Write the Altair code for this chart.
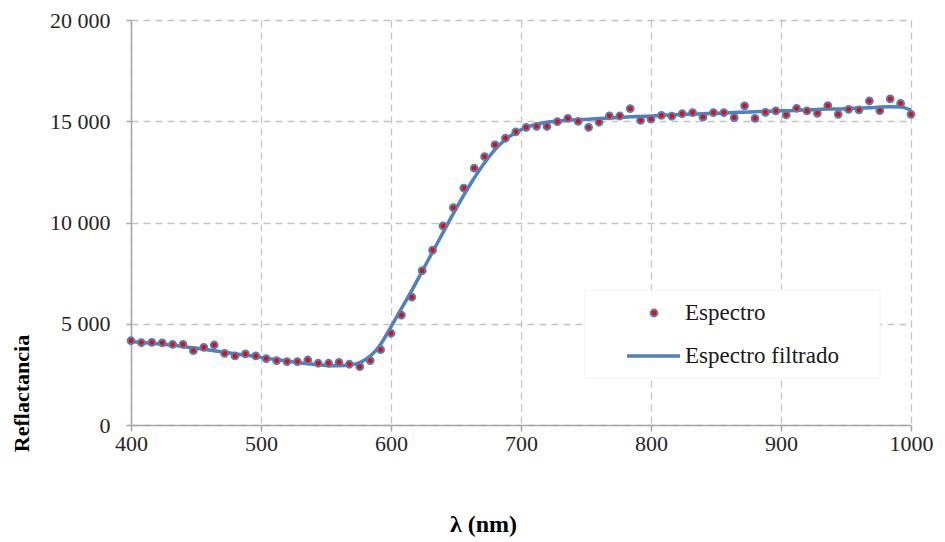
import altair as alt
import pandas as pd

wavelength = [400, 408, 416, 424, 432, 440, 448, 456, 464, 472, 480, 488, 496, 504, 512,
              520, 528, 536, 544, 552, 560, 568, 576, 584, 592, 600, 608, 616, 624, 632,
              640, 648, 656, 664, 672, 680, 688, 696, 704, 712, 720, 728, 736, 744, 752,
              760, 768, 776, 784, 792, 800, 808, 816, 824, 832, 840, 848, 856, 864, 872,
              880, 888, 896, 904, 912, 920, 928, 936, 944, 952, 960, 968, 976, 984, 992, 1000]

espectro = [4160, 4070, 4080, 4060, 3980, 3980, 3670, 3830, 3950, 3540, 3410, 3510, 3410, 3280, 3180,
            3130, 3130, 3210, 3050, 3050, 3090, 3000, 2880, 3180, 3720, 4530, 5430, 6310, 7620, 8640,
            9830, 10730, 11700, 12680, 13250, 13830, 14160, 14480, 14700, 14750, 14740, 14980, 15140, 14990, 14700,
            14950, 15270, 15260, 15620, 15040, 15100, 15290, 15250, 15370, 15430, 15200, 15430, 15430, 15180, 15760,
            15140, 15440, 15510, 15310, 15640, 15510, 15390, 15770, 15340, 15590, 15560, 16000, 15520, 16100, 15880, 15340]

filtrado = [4120, 4080, 4040, 3990, 3940, 3880, 3810, 3740, 3670, 3600, 3520, 3450, 3380, 3300, 3230,
            3160, 3090, 3030, 2970, 2930, 2920, 2960, 3080, 3400, 3980, 4850, 5750, 6650, 7600, 8550,
            9500, 10450, 11350, 12200, 12950, 13600, 14100, 14450, 14700, 14850, 14950, 15000, 15050, 15080, 15100,
            15130, 15160, 15190, 15220, 15240, 15260, 15290, 15310, 15330, 15350, 15370, 15390, 15410, 15430, 15450,
            15470, 15490, 15510, 15520, 15540, 15560, 15580, 15600, 15610, 15630, 15650, 15670, 15700, 15720, 15700, 15550]

legend_labels = ["Espectro", "Espectro filtrado"]

df = pd.DataFrame({"wl": wavelength, "esp": espectro, "filt": filtrado})

FONT = "Liberation Serif"
BLUE = "#4f81bd"

x_enc = alt.X("wl:Q", scale=alt.Scale(domain=[400, 1000], nice=False, zero=False),
              axis=alt.Axis(values=[400, 500, 600, 700, 800, 900, 1000], title="λ (nm)",
                            titleFontSize=24, titleFontWeight="bold", titleX=352, titleY=87,
                            labelFontSize=22, labelPadding=2, tickSize=6, labelFlush=False,
                            format="d"))

y_axis = alt.Axis(values=[0, 5000, 10000, 15000, 20000], title="Reflactancia",
                  titleFontSize=22, titleFontWeight="bold", titleX=-98, titleY=373,
                  labelFontSize=22, labelPadding=16, tickSize=5,
                  labelExpr="replace(format(datum.value, ','), ',', ' ')")

base = alt.Chart(df)

line = base.mark_line(color=BLUE, strokeWidth=3.5, interpolate="monotone").encode(
    x=x_enc,
    y=alt.Y("filt:Q", scale=alt.Scale(domain=[0, 20000], nice=False), axis=y_axis),
)

points = base.mark_point(shape="circle", filled=True, fill="#ff0000", stroke=BLUE,
                         strokeWidth=2, size=46, opacity=1).encode(
    x="wl:Q",
    y="esp:Q",
)

# legend box
leg_df = pd.DataFrame({"label": legend_labels})
leg_box = alt.Chart(leg_df).mark_rect(fill="white", stroke="#f2f2f2").encode(
    x=alt.value(454), x2=alt.value(749), y=alt.value(270), y2=alt.value(358)
).transform_filter(alt.datum.label == legend_labels[0])
leg_pt = alt.Chart(leg_df).mark_point(shape="circle", filled=True, fill="#ff0000", stroke=BLUE,
                                      strokeWidth=2, size=46, opacity=1).encode(
    x=alt.value(523), y=alt.value(293)
).transform_filter(alt.datum.label == legend_labels[0])
leg_line = alt.Chart(leg_df).mark_rule(color=BLUE, strokeWidth=3.5).encode(
    x=alt.value(496), x2=alt.value(549), y=alt.value(336)
).transform_filter(alt.datum.label == legend_labels[1])
leg_t1 = alt.Chart(leg_df).mark_text(align="left", baseline="middle", font=FONT, fontSize=23,
                                     color="#1a1a1a").encode(
    x=alt.value(554), y=alt.value(293), text="label:N"
).transform_filter(alt.datum.label == legend_labels[0])
leg_t2 = alt.Chart(leg_df).mark_text(align="left", baseline="middle", font=FONT, fontSize=23,
                                     color="#1a1a1a").encode(
    x=alt.value(554), y=alt.value(336), text="label:N"
).transform_filter(alt.datum.label == legend_labels[1])

chart = alt.layer(line, points, leg_box, leg_pt, leg_line, leg_t1, leg_t2).properties(
    width=780, height=405,
    autosize=alt.AutoSizeParams(type="none"),
    padding={"left": 131, "top": 20, "right": 34, "bottom": 117},
    background="white",
).configure_view(stroke=None).configure_axis(
    labelFont=FONT, titleFont=FONT, labelColor="#262626", titleColor="#000000",
    domainColor="#a6a6a6", domainWidth=1.5, tickColor="#a6a6a6", tickWidth=1.5,
    gridColor="#c4c4c4", gridDash=[7, 5], gridWidth=1.3,
)

chart.save("out.html", embed_options={"renderer": "svg", "actions": False})
